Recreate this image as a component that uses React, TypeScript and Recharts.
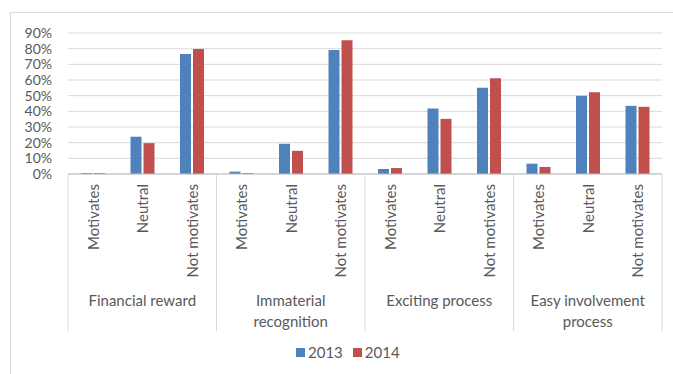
import React from 'react'
import { BarChart, Bar, XAxis, YAxis, CartesianGrid, Legend } from 'recharts'

const groups = ['Financial reward', 'Immaterial recognition', 'Exciting process', 'Easy involvement process']
const groupLines = [['Financial reward'], ['Immaterial', 'recognition'], ['Exciting process'], ['Easy involvement', 'process']]
const answers = ['Motivates', 'Neutral', 'Not motivates']

// percent values, group by group
const values2013 = [0.6, 23.8, 76.6, 1.5, 19.3, 79.2, 3.2, 41.8, 55.0, 6.6, 49.9, 43.5]
const values2014 = [0.6, 19.7, 79.8, 0.6, 14.8, 85.3, 3.8, 35.2, 61.1, 4.5, 52.2, 42.9]
const yTicks = [0, 10, 20, 30, 40, 50, 60, 70, 80, 90]

const rows = values2013.map((v, i) => ({
  key: i,
  group: Math.floor(i / answers.length),
  groupName: groups[Math.floor(i / answers.length)],
  answer: answers[i % answers.length],
  y2013: v,
  y2014: values2014[i],
}))

const W = 673
const H = 374
const M = { top: 33, right: 11, bottom: 30, left: 10 }
const Y_W = 58
const band = (W - M.left - M.right - Y_W) / rows.length
const font = 'Lato, "Open Sans", sans-serif'
const textColor = '#595959'

function CategoryTick(props: any) {
  const { x, y, index } = props
  const row = rows[index]
  const n = answers.length
  const pos = index % n
  return (
    <g>
      <text
        x={x}
        y={y + 10}
        transform={`rotate(-90 ${x} ${y + 10})`}
        textAnchor="end"
        dominantBaseline="central"
        fill={textColor}
        fontSize={15}
        fontFamily={font}
      >
        {row.answer}
      </text>
      {pos === 0 && <line x1={x - band / 2} x2={x - band / 2} y1={y} y2={y + 157} stroke="#d9d9d9" />}
      {index === rows.length - 1 && <line x1={x + band / 2} x2={x + band / 2} y1={y} y2={y + 157} stroke="#d9d9d9" />}
      {pos === 1 && (
        <text x={x} y={y + 126} textAnchor="middle" dominantBaseline="central" fill={textColor} fontSize={15} fontFamily={font}>
          {groupLines[row.group].map((line, j) => (
            <tspan key={j} x={x} dy={j === 0 ? 0 : 21}>{line}</tspan>
          ))}
        </text>
      )}
    </g>
  )
}

function LegendBox() {
  const items = [
    { label: '2013', color: '#4F81BD' },
    { label: '2014', color: '#C0504D' },
  ]
  return (
    <div style={{ display: 'flex', gap: 10, fontFamily: font, fontSize: 15, color: textColor }}>
      {items.map((it) => (
        <div key={it.label} style={{ display: 'flex', alignItems: 'center', gap: 3 }}>
          <span style={{ width: 9, height: 9, background: it.color, display: 'inline-block' }} />
          <span>{it.label}</span>
        </div>
      ))}
    </div>
  )
}

export default function App() {
  return (
    <div style={{ position: 'absolute', left: 0, top: 0, width: W, height: H, background: '#fff', overflow: 'hidden' }}>
      <div style={{ position: 'absolute', left: 10, top: 12, width: W, height: H, border: '1px solid #d9d9d9' }} />
      <div style={{ position: 'absolute', left: 0, top: 0 }}>
        <BarChart width={W} height={H} data={rows} margin={M} barGap={2}>
          <CartesianGrid vertical={false} stroke="#d9d9d9" />
          <XAxis
            dataKey="key"
            interval={0}
            height={170}
            tickLine={false}
            tickSize={0}
            tickMargin={0}
            axisLine={{ stroke: '#bfbfbf' }}
            tick={<CategoryTick />}
          />
          <YAxis
            width={Y_W}
            domain={[0, 90]}
            ticks={yTicks}
            interval={0}
            axisLine={false}
            tickLine={false}
            tickSize={0}
            tickMargin={16}
            tickFormatter={(v: number) => `${v}%`}
            tick={{ fill: textColor, fontSize: 14, fontFamily: font }}
          />
          <Legend
            layout="horizontal"
            verticalAlign="middle"
            align="center"
            content={<LegendBox />}
            wrapperStyle={{ top: 343, left: 296, width: 'auto' }}
          />
          <Bar dataKey="y2013" name="2013" fill="#4F81BD" barSize={11} isAnimationActive={false} />
          <Bar dataKey="y2014" name="2014" fill="#C0504D" barSize={11} isAnimationActive={false} />
        </BarChart>
      </div>
    </div>
  )
}
